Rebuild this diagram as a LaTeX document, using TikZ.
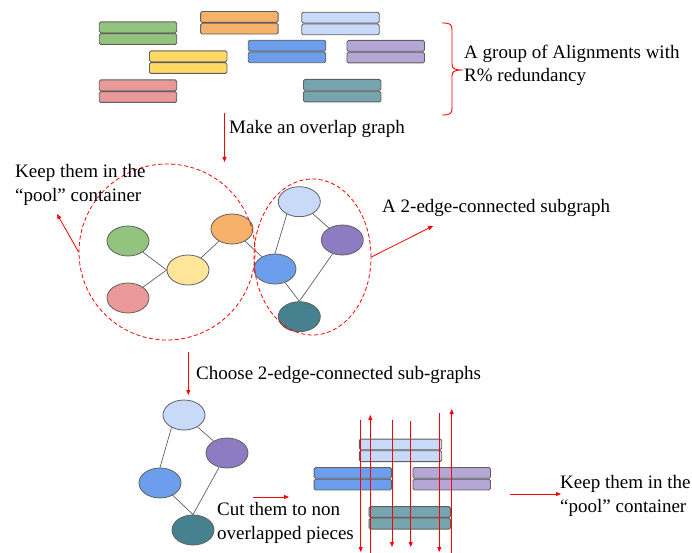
\documentclass[tikz,border=0pt]{standalone}
\usepackage{fontspec}
\setmainfont{Liberation Serif}
\usetikzlibrary{arrows.meta,shapes.geometric}

% fills of the alignment bars
\definecolor{agreen}{HTML}{93C47D}
\definecolor{aorange}{HTML}{F6B26B}
\definecolor{alblue}{HTML}{C9DAF8}
\definecolor{ayellow}{HTML}{FFD966}
\definecolor{ablue}{HTML}{6D9EEB}
\definecolor{apurple}{HTML}{B4A7D6}
\definecolor{ared}{HTML}{EA9999}
\definecolor{ateal}{HTML}{76A5AF}
% fills of the graph vertices that differ from the bars
\definecolor{vyellow}{HTML}{FFE599}
\definecolor{vpurple}{HTML}{8E7CC3}
\definecolor{vteal}{HTML}{45818E}
\definecolor{edgegray}{HTML}{5F5F5F}

\tikzset{
  barlen/.store in=\barlen, barlen=77.5,
  barpart/.style={draw=edgegray, line width=0.9pt, rounded corners=1.5pt,
    minimum width=\barlen, minimum height=10.8, inner sep=0, fill=#1},
  alnbar/.pic={
    \node[barpart=#1, anchor=south] (-t) at (0,0) {};
    \node[barpart=#1, anchor=north] (-b) at (0,0) {};
  },
  vert/.style={ellipse, draw=edgegray, line width=0.8pt, minimum width=42,
    minimum height=30, inner sep=0, fill=#1},
  link/.style={draw=edgegray, line width=0.7pt},
  flow/.style={red, line width=0.8pt, -{Triangle[length=5pt,width=4pt]}},
  group/.style={ellipse, draw=red, dash pattern=on 4pt off 2.5pt,
    line width=0.8pt, inner sep=0},
  % labels are placed by the baseline of their last line
  lbl/.style={font=\fontsize{19}{23.5}\selectfont, inner sep=0, align=left,
    anchor=base west},
}

\begin{document}
\begin{tikzpicture}[x=1pt,y=-1pt]
\useasboundingbox (0,0) rectangle (692,553);

% ---- alignments with redundancy ----
\pic (ag) at (138,33.2) {alnbar=agreen};
\pic (ao) at (239.4,22.8) {alnbar=aorange};
\pic (al) at (340.5,23.5) {alnbar=alblue};
\pic (ay) at (188.2,62.2) {alnbar=ayellow};
\pic (ab) at (287,51.5) {alnbar=ablue};
\pic (ap) at (385.7,51.7) {alnbar=apurple};
\pic (ar) at (138,91.2) {alnbar=ared};
\pic (at) at (342.2,90.7) {alnbar=ateal};

\draw[red, line width=0.9pt] (442,23) .. controls (450,23) and (452,24) .. (452,30)
  -- (452,64) .. controls (452,69) and (455,70) .. (463,70)
  .. controls (455,70) and (452,71) .. (452,76)
  -- (452,108) .. controls (452,114) and (450,115) .. (442,115);
\node[lbl] (tgroup) at (464,82) {A group of Alignments with\\R\% redundancy};

% ---- overlap graph ----
\coordinate (m1) at (224.5,113);
\coordinate (m2) at (224.5,162);
\draw[flow] (m1) -- (m2);
\node[lbl] (tmake) at (229,134) {Make an overlap graph};

\node[vert=agreen]  (g)  at (128,241) {};
\node[vert=ared]    (r)  at (128,298) {};
\node[vert=vyellow] (y)  at (188,270) {};
\node[vert=aorange] (o)  at (232,229) {};
\node[vert=alblue]  (lb) at (299.3,201.7) {};
\node[vert=vpurple] (p)  at (342.3,240) {};
\node[vert=ablue]   (b)  at (275,269) {};
\node[vert=vteal]   (t)  at (299.3,316.7) {};

\draw[link] (g) -- (y.west);
\draw[link] (r) -- (y.west);
\draw[link] (y) -- (o);
\draw[link] (o) -- (b);
\draw[link] (lb.225) -- (b.north);
\draw[link] (lb) -- (p);
\draw[link] (p) -- (t.north);
\draw[link] (b) -- (t.north);

\node[group, minimum width=176, minimum height=176] (pool) at (167,252) {};
\node[group, minimum width=117, minimum height=156] (sub) at (312.5,257) {};

\coordinate (k1) at (57,214);
\draw[flow] (pool.west) -- (k1);
\node[lbl] (tkeep) at (15,201) {Keep them in the\\“pool” container};

\coordinate (s1) at (433,226);
\draw[flow] (sub.east) -- (s1);
\node[lbl] (tsub) at (382,212) {A 2-edge-connected subgraph};

% ---- chosen subgraph ----
\coordinate (c1) at (188.3,352);
\coordinate (c2) at (188.3,395);
\draw[flow] (c1) -- (c2);
\node[lbl] (tchoose) at (196,379) {Choose 2-edge-connected sub-graphs};

\node[vert=alblue]  (lb2) at (184,415) {};
\node[vert=vpurple] (p2)  at (227,453) {};
\node[vert=ablue]   (b2)  at (160,483) {};
\node[vert=vteal]   (t2)  at (193,530) {};

\draw[link] (lb2.225) -- (b2.north);
\draw[link] (lb2) -- (p2);
\draw[link] (p2) -- (t2.north);
\draw[link] (b2) -- (t2.north);

\coordinate (u1) at (253,497);
\coordinate (u2) at (289,497);
\draw[flow] (u1) -- (u2);
\node[lbl] (tcut) at (217,539) {Cut them to non\\overlapped pieces};

% ---- cutting the alignments ----
\pic[barlen=82.4] (cl) at (400.5,450.3) {alnbar=alblue};
\pic (cb) at (352.8,478.7) {alnbar=ablue};
\pic (cp) at (451.7,478.7) {alnbar=apurple};
\pic[barlen=81.7] (ct) at (409.8,517.8) {alnbar=ateal};

\coordinate (v1a) at (360.7,420);   \coordinate (v1b) at (360.7,552);
\coordinate (v2a) at (370.3,553);   \coordinate (v2b) at (370.3,415);
\coordinate (v3a) at (392,420);     \coordinate (v3b) at (392,547);
\coordinate (v4a) at (410.7,421);   \coordinate (v4b) at (410.7,547);
\coordinate (v5a) at (439.3,413);   \coordinate (v5b) at (439.3,552);
\coordinate (v6a) at (451.7,553);   \coordinate (v6b) at (451.7,409);
\foreach \i in {1,...,6} \draw[flow] (v\i a) -- (v\i b);

\coordinate (e1) at (510,494);
\coordinate (e2) at (561,494);
\draw[flow] (e1) -- (e2);
\node[lbl] (tpool) at (560,512) {Keep them in the\\“pool” container};
\end{tikzpicture}
\end{document}
